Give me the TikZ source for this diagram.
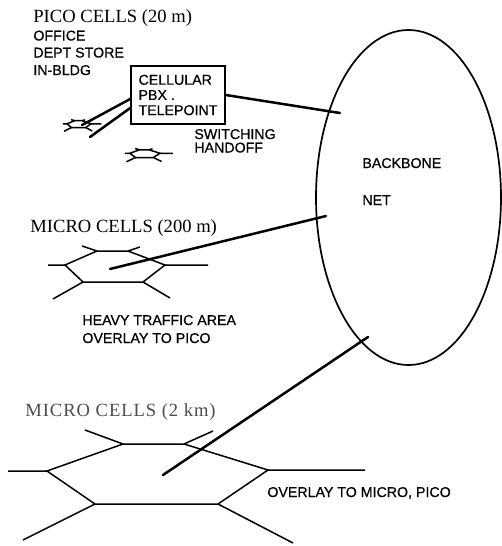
\documentclass[tikz,border=0pt]{standalone}
\usepackage{fontspec}
\setmainfont{Liberation Serif}
\newfontfamily\lblfont[FakeBold=0.6]{Liberation Sans}
\newcommand\hexcell[5]{%
  \begin{scope}[shift={(#2,#3)},xscale=#4,yscale=#5]
    \coordinate (#1) at (0,0);
    \draw[cell] (-50,-1) -- (-18,-15) -- (13,-15) -- (50,-1) -- (28,16) -- (-32,16) -- cycle;
    \draw[cell] (-50,-1) -- (-67,-1) (-18,-15) -- (-33,-20) (13,-15) -- (25,-19)
                (50,-1) -- (93,-1) (28,16) -- (55,32) (-32,16) -- (-62,33);
  \end{scope}}
\begin{document}
\begin{tikzpicture}[x=0.5pt,y=-0.5pt,
  title/.style={anchor=base west, inner sep=0pt, font=\fontsize{9.3}{11}\selectfont},
  lbl/.style={anchor=base west, inner sep=0pt, font=\lblfont\fontsize{7.1}{8.5}\selectfont},
  link/.style={line width=1.25pt, line cap=round},
  cell/.style={line width=0.75pt, line join=miter},
  pbxbox/.style={draw, line width=0.8pt, minimum width=47pt, minimum height=29pt,
                 align=left, inner sep=2pt, font=\lblfont\fontsize{7.1}{7.6}\selectfont}]
\useasboundingbox (0,0) rectangle (502,546);

% backbone
\draw[line width=0.85pt] (408.5,197.5) ellipse [x radius=92.5, y radius=167.5];
\coordinate (net) at (408.5,197.5);
\node[lbl] (bb) at (362,168) {BACKBONE};
\node[lbl] (nt) at (362,205) {NET};

% pico cells
\node[title] (t1) at (33,22.5) {PICO CELLS (20 m)};
\node[lbl] (o1) at (33,40.5) {OFFICE};
\node[lbl] (o2) at (33,57.5) {DEPT STORE};
\node[lbl] (o3) at (33,75) {IN-BLDG};
\node[pbxbox] (pbx) at (178,95) {CELLULAR\\PBX .\\TELEPOINT};
\node[lbl] (sw) at (194,139) {SWITCHING};
\node[lbl] (ho) at (194,152.5) {HANDOFF};
\hexcell{ph1}{79}{124}{0.24}{0.22}
\hexcell{ph2}{145}{153.5}{0.3}{0.25}
\coordinate (pa) at (82,125);
\coordinate (pb) at (90,137);
\coordinate (bb1) at (340,113);
\draw[link] ([yshift=-2pt]pbx.west) -- (pa);
\draw[link] ([yshift=-6.5pt]pbx.west) -- (pb);
\draw[link] (pbx.east) -- (bb1);

% micro cells 200 m
\node[title] (t2) at (30,232) {MICRO CELLS (200 m)};
\hexcell{mh}{115}{266}{1}{1}
\node[lbl] (h1) at (82,325) {HEAVY TRAFFIC AREA};
\node[lbl] (h2) at (82,343) {OVERLAY TO PICO};
\coordinate (ma) at (110,269);
\coordinate (bb2) at (326,216);
\draw[link] (ma) -- (bb2);

% macro cells 2 km
\node[title, text=black!70] (t3) at (25,416) {\addfontfeature{LetterSpace=5}MICRO CELLS (2 km)};
\draw[cell] (47,471) -- (123,444) -- (184,444) -- (268,470) -- (218,504) -- (95,504) -- cycle;
\draw[cell] (47,471) -- (8,471) (123,444) -- (85,430) (184,444) -- (213,431)
            (268,470) -- (365,470) (218,504) -- (293,543) (95,504) -- (23,540);
\node[lbl] (ov) at (267,497) {OVERLAY TO MICRO, PICO};
\coordinate (ba) at (163,475);
\coordinate (bb3) at (368,337);
\draw[link] (ba) -- (bb3);
\end{tikzpicture}
\end{document}
